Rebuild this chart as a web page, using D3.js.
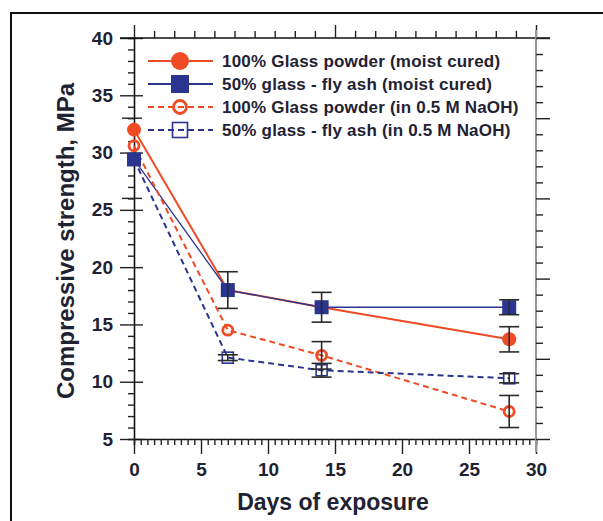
<!DOCTYPE html>
<meta charset="utf-8">
<body style="margin:0;background:#fff">
  <svg id="chart" width="603" height="521"></svg>

  <script src="https://cdnjs.cloudflare.com/ajax/libs/d3/7.8.5/d3.min.js"></script>
  <script>

    // data
    var days = [0, 7, 14, 28]

    var glassMoist = [32.0, 18.0, 16.5, 13.7]
    var glassMoistErr = [0, 1.6, 0, 1.1]

    var flyMoist = [29.4, 18.0, 16.5, 16.5]
    var flyMoistErr = [0, 0, 1.3, 0.65]

    var glassNaOH = [30.6, 14.5, 12.3, 7.4]
    var glassNaOHErr = [0, 0, 1.2, 1.4]

    var flyNaOH = [29.4, 12.1, 11.0, 10.3]
    var flyNaOHErr = [0, 0.25, 0.6, 0.4]

    var seriesNames = [
      '100% Glass powder (moist cured)',
      '50% glass - fly ash (moist cured)',
      '100% Glass powder (in 0.5 M NaOH)',
      '50% glass - fly ash (in 0.5 M NaOH)'
    ]

    var xTicks = [0, 5, 10, 15, 20, 25, 30]
    var yTicks = [5, 10, 15, 20, 25, 30, 35, 40]

    var red = '#ef4b24', blue = '#2b3590', ink = '#1f2233'
    var font = 'Liberation Sans, Arial, sans-serif'

    var series = [
      { name: seriesNames[0], vals: glassMoist, err: glassMoistErr, color: red, dash: null, shape: 'circle', fill: true, lw: 2 },
      { name: seriesNames[1], vals: flyMoist, err: flyMoistErr, color: blue, dash: null, shape: 'square', fill: true, lw: 1.3 },
      { name: seriesNames[2], vals: glassNaOH, err: glassNaOHErr, color: red, dash: '6,4', shape: 'circle', fill: false, lw: 2 },
      { name: seriesNames[3], vals: flyNaOH, err: flyNaOHErr, color: blue, dash: '6,4', shape: 'square', fill: false, lw: 2 }
    ]

    var svg = d3.select('#chart')

    // outer frame
    svg.append('path')
      .attr('d', 'M11,521 L11,13 L603,13')
      .attr('fill', 'none')
      .attr('stroke', '#111')
      .attr('stroke-width', 2)

    var x = d3.scaleLinear().domain([0, 30]).range([134, 536])
    var y = d3.scaleLinear().domain([5, 40]).range([439, 38])
    // secondary (unlabelled) axes of the figure
    var xTop = d3.scaleLinear().domain([0, 20]).range([134, 536])
    var yRight = d3.scaleLinear().domain([0, 25]).range([439, 38])

    function styleAxis(g, color) {
      g.select('.domain').attr('stroke', color).attr('stroke-width', 1.6)
      g.selectAll('.tick line').attr('stroke', '#222').attr('stroke-width', 1.4)
      g.selectAll('text')
        .attr('fill', ink)
        .style('font-family', font)
        .style('font-weight', 'bold')
        .style('font-size', '19px')
    }

    // left axis
    var gl = svg.append('g').attr('transform', 'translate(134,0)')
      .call(d3.axisLeft(y).tickValues(d3.range(5, 40.5, 1)).tickSize(6).tickPadding(15)
        .tickFormat(d => yTicks.includes(d) ? d : ''))
    styleAxis(gl, '#111')
    gl.selectAll('.tick line').filter(d => d % 5 === 0).attr('x1', -14).attr('x2', 9)

    // extra marks on left axis from the secondary scale
    svg.append('g').attr('transform', 'translate(134,0)')
      .selectAll('line').data([15, 20]).join('line')
      .attr('x1', -12).attr('x2', 8)
      .attr('y1', d => yRight(d)).attr('y2', d => yRight(d))
      .attr('stroke', '#222').attr('stroke-width', 1.4)

    // bottom axis
    var gb = svg.append('g').attr('transform', 'translate(0,439)')
      .call(d3.axisBottom(x).tickValues(d3.range(0, 30.01, 0.5)).tickSize(6)
        .tickFormat(d => xTicks.includes(d) ? d : ''))
    styleAxis(gb, '#111')
    gb.selectAll('.tick line').filter(d => d % 5 === 0).attr('y2', 15)
    gb.selectAll('.tick text').attr('y', 24).attr('dy', '0.71em')

    // top axis
    var gt = svg.append('g').attr('transform', 'translate(0,38)')
      .call(d3.axisTop(xTop).ticks(20).tickSize(7).tickFormat(''))
    styleAxis(gt, '#111')
    gt.selectAll('.tick line').filter(d => d % 10 === 0).attr('y2', -13)
    gt.select('.domain').attr('d', 'M120,0H550')

    // right axis
    var gr = svg.append('g').attr('transform', 'translate(536,0)')
      .call(d3.axisRight(yRight).ticks(25).tickSize(7).tickFormat(''))
    styleAxis(gr, '#999')
    gr.select('.domain').attr('stroke-width', 2).attr('d', 'M0,30V452')
    gr.selectAll('.tick line').filter(d => d % 5 === 0).attr('x2', 14)

    // data lines
    var line = d3.line().x((d, i) => x(days[i])).y(d => y(d))

    svg.append('g').selectAll('path').data(series).join('path')
      .attr('d', s => line(s.vals))
      .attr('fill', 'none')
      .attr('stroke', s => s.color)
      .attr('stroke-width', s => s.lw)
      .attr('stroke-dasharray', s => s.dash)

    function drawMarker(g, s, cx, cy, big) {
      if (s.shape === 'circle') {
        g.append('circle')
          .attr('cx', cx).attr('cy', cy)
          .attr('r', s.fill ? (big ? 9 : 7) : (big ? 6.5 : 5))
          .attr('fill', s.fill ? s.color : 'none')
          .attr('stroke', s.color)
          .attr('stroke-width', s.fill ? 0 : 2.8)
      } else {
        var h = s.fill ? (big ? 9 : 7) : (big ? 7.5 : 5.5)
        g.append('rect')
          .attr('x', cx - h).attr('y', cy - h)
          .attr('width', 2 * h).attr('height', 2 * h)
          .attr('fill', s.fill ? s.color : 'none')
          .attr('stroke', s.color)
          .attr('stroke-width', s.fill ? 0 : 1.6)
      }
    }

    var gm = svg.append('g')
    series.forEach(function (s) {
      s.vals.forEach(function (v, i) {
        drawMarker(gm, s, x(days[i]), y(v), false)
      })
    })

    // error bars
    var ge = svg.append('g').attr('stroke', '#2a2a2a').attr('stroke-width', 1.6)
    series.forEach(function (s) {
      s.vals.forEach(function (v, i) {
        var e = s.err[i]
        if (!e) return
        var cx = x(days[i])
        ge.append('line').attr('x1', cx).attr('x2', cx).attr('y1', y(v - e)).attr('y2', y(v + e))
        ge.append('line').attr('x1', cx - 10).attr('x2', cx + 10).attr('y1', y(v - e)).attr('y2', y(v - e))
        ge.append('line').attr('x1', cx - 10).attr('x2', cx + 10).attr('y1', y(v + e)).attr('y2', y(v + e))
      })
    })

    // legend
    var lg = svg.append('g')
    series.forEach(function (s, i) {
      var ly = 61 + i * 23
      lg.append('line')
        .attr('x1', 148).attr('x2', 213).attr('y1', ly).attr('y2', ly)
        .attr('stroke', s.color).attr('stroke-width', 1.8)
        .attr('stroke-dasharray', s.dash)
      drawMarker(lg, s, 180, ly, true)
      lg.append('text')
        .attr('x', 222).attr('y', ly)
        .attr('dy', '0.36em')
        .attr('fill', ink)
        .style('font-family', font)
        .style('font-weight', 'bold')
        .style('font-size', '17px')
        .style('letter-spacing', '0.2px')
        .text(s.name)
    })

    // axis titles
    svg.append('text')
      .attr('transform', 'translate(66,241) rotate(-90)')
      .attr('text-anchor', 'middle')
      .attr('dy', '0.35em')
      .attr('fill', ink)
      .style('font-family', font)
      .style('font-weight', 'bold')
      .style('font-size', '24px')
      .text('Compressive strength, MPa')

    svg.append('text')
      .attr('x', 333).attr('y', 502)
      .attr('text-anchor', 'middle')
      .attr('dy', '0.35em')
      .attr('fill', ink)
      .style('font-family', font)
      .style('font-weight', 'bold')
      .style('font-size', '23px')
      .text('Days of exposure')

  </script>
</body>
